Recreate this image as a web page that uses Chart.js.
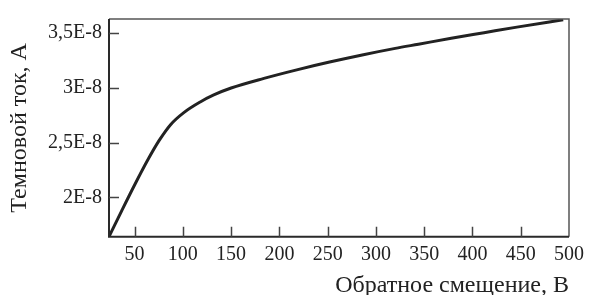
<!DOCTYPE html>
<html>
<head>
<meta charset="utf-8">
<script src="https://cdn.jsdelivr.net/npm/chart.js@4/dist/chart.umd.min.js"></script>
<style>
  html, body { margin: 0; padding: 0; background: #ffffff; }
  #wrap { width: 590px; height: 295px; }
</style>
</head>
<body>
<div id="wrap"><canvas id="c" width="590" height="295"></canvas></div>
<script>
// Reverse bias voltage, V
const voltage = [23.5, 36.5, 50, 63.6, 75.5, 87.5, 101, 118, 132, 150, 184, 218, 252, 287, 320, 344, 378, 412, 446, 494];
// Dark current, A
const darkCurrent = [1.641e-8, 1.875e-8, 2.113e-8, 2.341e-8, 2.520e-8, 2.666e-8, 2.774e-8, 2.871e-8, 2.935e-8, 2.998e-8,
                     3.086e-8, 3.164e-8, 3.235e-8, 3.302e-8, 3.360e-8, 3.398e-8, 3.452e-8, 3.503e-8, 3.554e-8, 3.621e-8];
const xTickValues = [50, 100, 150, 200, 250, 300, 350, 400, 450, 500];
const yTickValues = [2e-8, 2.5e-8, 3e-8, 3.5e-8];
const yTickLabels = ['2E-8', '2,5E-8', '3E-8', '3,5E-8'];
const xTitle = 'Обратное смещение, В';
const yTitle = 'Темновой ток, А';

const FONT = "'Liberation Serif', 'Times New Roman', serif";

const frame = {
  id: 'frame',
  afterDraw(chart) {
    const { ctx, chartArea: a, scales } = chart;
    ctx.save();
    ctx.strokeStyle = '#555';
    ctx.lineWidth = 1.5;
    ctx.beginPath();
    ctx.moveTo(a.left, a.top); ctx.lineTo(a.right, a.top); ctx.lineTo(a.right, a.bottom);
    ctx.stroke();
    ctx.strokeStyle = '#2a2a2a';
    ctx.lineWidth = 2;
    ctx.beginPath();
    ctx.moveTo(a.left, a.top); ctx.lineTo(a.left, a.bottom); ctx.lineTo(a.right, a.bottom);
    ctx.stroke();
    ctx.strokeStyle = '#444';
    ctx.lineWidth = 1.5;
    ctx.beginPath();
    scales.x.ticks.forEach(t => {
      const px = Math.round(scales.x.getPixelForValue(t.value)) + 0.5;
      if (px > a.right - 2) return;
      ctx.moveTo(px, a.bottom); ctx.lineTo(px, a.bottom - 10);
    });
    scales.y.ticks.forEach(t => {
      const py = Math.round(scales.y.getPixelForValue(t.value)) + 0.5;
      ctx.moveTo(a.left, py); ctx.lineTo(a.left + 10, py);
    });
    ctx.stroke();
    ctx.restore();
  }
};

new Chart(document.getElementById('c'), {
  type: 'line',
  data: {
    datasets: [{
      data: voltage.map((v, i) => ({ x: v, y: darkCurrent[i] })),
      borderColor: '#222222',
      borderWidth: 3,
      pointRadius: 0,
      fill: false,
      cubicInterpolationMode: 'monotone'
    }]
  },
  options: {
    responsive: false,
    animation: false,
    layout: { padding: { left: 0, right: 14, top: 12, bottom: 0 } },
    plugins: { legend: { display: false }, tooltip: { enabled: false } },
    scales: {
      x: {
        type: 'linear',
        min: 23.5,
        max: 500,
        grid: { display: false, drawTicks: false },
        border: { display: false },
        afterBuildTicks(scale) { scale.ticks = xTickValues.map(v => ({ value: v })); },
        afterFit(scale) { scale.height = 58.3; },
        ticks: {
          padding: 6,
          maxRotation: 0,
          autoSkip: false,
          color: '#222',
          font: { family: FONT, size: 20 },
          callback: (v) => String(v)
        },
        title: {
          display: true,
          text: xTitle,
          align: 'end',
          color: '#222',
          font: { family: FONT, size: 24, lineHeight: 0.8 },
          padding: { top: 0, bottom: 0 }
        }
      },
      y: {
        type: 'linear',
        min: 1.641e-8,
        max: 3.628e-8,
        grid: { display: false, drawTicks: false },
        border: { display: false },
        afterBuildTicks(scale) { scale.ticks = yTickValues.map(v => ({ value: v })); },
        afterFit(scale) { scale.width = 109; },
        ticks: {
          padding: 7,
          autoSkip: false,
          color: '#222',
          font: { family: FONT, size: 20 },
          callback: (v) => {
            const i = yTickValues.findIndex(t => Math.abs(t - v) < 1e-12);
            return i >= 0 ? yTickLabels[i] : '';
          }
        },
        title: {
          display: true,
          text: yTitle,
          color: '#222',
          font: { family: FONT, size: 24 },
          padding: { top: 5.5, bottom: 0 }
        }
      }
    }
  },
  plugins: [frame]
});
</script>
</body>
</html>
